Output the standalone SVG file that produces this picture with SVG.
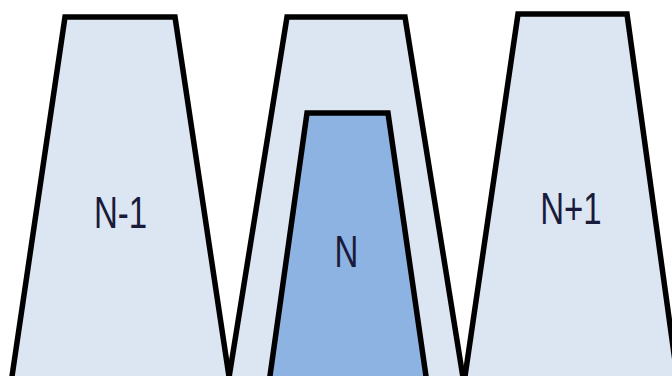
<svg xmlns="http://www.w3.org/2000/svg" width="672" height="376" viewBox="0 0 672 376">
<style>
.shape{stroke:#000;stroke-width:5.5;stroke-linejoin:miter}
.light{fill:#DCE6F2}
.dark{fill:#8DB3E2}
.lbl{font-family:"Liberation Sans",Arial,sans-serif;font-size:33px;fill:#1a1a3a;text-anchor:middle}
</style>
<rect width="672" height="376" fill="#fff"/>
<g id="node-n-minus-1">
<polygon class="shape light" points="10,390 65,17 175,17 231,390"/>
<text class="lbl" transform="translate(120.5,228) scale(1,1.36)">N-1</text>
</g>
<g id="node-n-outer">
<polygon class="shape light" points="227,390 287,17 405,17 465,390"/>
</g>
<g id="node-n">
<polygon class="shape dark" points="268,390 307,113 388,113 428,390"/>
<text class="lbl" transform="translate(346.5,267) scale(1,1.36)">N</text>
</g>
<g id="node-n-plus-1">
<polygon class="shape light" points="463,390 518,14 627,14 679,390"/>
<text class="lbl" transform="translate(571,224) scale(1,1.36)">N+1</text>
</g>
<g id="connectors"></g>
</svg>
